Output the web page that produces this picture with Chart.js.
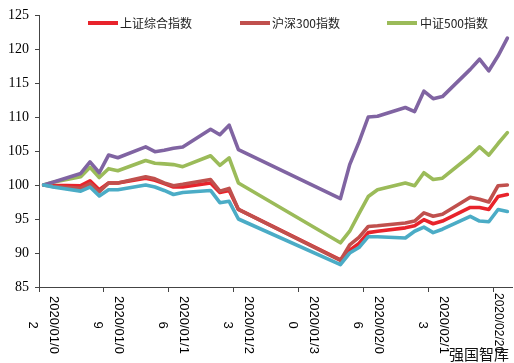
<!DOCTYPE html>
<html><head><meta charset="utf-8">
<script src="https://cdn.jsdelivr.net/npm/chart.js@4.4.0/dist/chart.umd.min.js"></script>
<style>html,body{margin:0;padding:0;background:#fff;}#wrap{position:relative;width:514px;height:363px;}</style>
</head><body><div id="wrap"><canvas id="c" width="514" height="363"></canvas></div>
<script>
const dates = ['2020/01/02','2020/01/03','2020/01/06','2020/01/07','2020/01/08','2020/01/09','2020/01/10','2020/01/13','2020/01/14','2020/01/15','2020/01/16','2020/01/17','2020/01/20','2020/01/21','2020/01/22','2020/01/23','2020/02/03','2020/02/04','2020/02/05','2020/02/06','2020/02/07','2020/02/10','2020/02/11','2020/02/12','2020/02/13','2020/02/14','2020/02/17','2020/02/18','2020/02/19','2020/02/20','2020/02/21'];
const sseComposite = [100,99.95,99.9,100.6,99.3,100.3,100.3,101.0,100.7,100.2,99.7,99.7,100.3,98.9,99.2,96.4,89.0,90.4,91.4,93.0,93.2,93.7,94.0,94.9,94.3,94.7,96.7,96.7,96.4,98.3,98.6];
const csi300 = [100,99.8,99.5,100.2,99.0,100.3,100.3,101.2,100.9,100.3,99.9,100.1,100.8,99.1,99.5,96.4,88.9,91.2,92.3,93.9,94.0,94.4,94.7,95.9,95.4,95.7,98.2,97.9,97.5,99.9,100.0];
const csi500 = [100,100.4,101.2,102.6,101.1,102.4,102.1,103.6,103.2,103.1,103.0,102.7,104.3,102.9,104.0,100.3,91.5,93.2,95.8,98.3,99.3,100.3,99.9,101.8,100.8,101.0,104.3,105.6,104.4,106.1,107.7];
const seriesPurple = [100,100.4,101.7,103.4,101.8,104.4,104.0,105.6,104.9,105.1,105.4,105.6,108.2,107.4,108.8,105.2,98.0,103.0,106.3,110.0,110.1,111.4,110.8,113.8,112.7,113.0,117.0,118.5,116.8,119.0,121.6];
const seriesCyan = [100,99.7,99.1,99.7,98.4,99.3,99.3,100.0,99.7,99.2,98.6,98.9,99.2,97.4,97.6,95.0,88.3,90.0,90.8,92.4,92.4,92.2,93.2,93.8,93.0,93.5,95.4,94.7,94.6,96.4,96.1];
const seriesNames = ['上证综合指数','沪深300指数','中证500指数','',''];
const xTickLabels = ['2020/01/02','2020/01/09','2020/01/16','2020/01/23','2020/01/30','2020/02/06','2020/02/13','2020/02/20'];
const yMin = 85, yMax = 125, yStep = 5;
const watermarkText = '强国智库';

function dayOffset(s){const p=s.split('/').map(Number);return (Date.UTC(p[0],p[1]-1,p[2])-Date.UTC(2020,0,2))/86400000;}
function pts(arr){return arr.map((v,i)=>({x:dayOffset(dates[i])+0.5,y:v}));}

const colors = ['#E8232B','#C0504D','#9BBB59','#8064A2','#4BACC6'];
const allSeries = [sseComposite,csi300,csi500,seriesPurple,seriesCyan];
const datasets = allSeries.map((s,i)=>({label:seriesNames[i],data:pts(s),borderColor:colors[i],backgroundColor:colors[i],borderWidth:3.6,pointRadius:0,tension:0,borderJoinStyle:'round',borderCapStyle:'round',fill:false}));
// draw order: later drawn on top -> set order
datasets.forEach((d,i)=>{d.order = [4,3,2,1,0][i];});

const overlay = {
  id:'overlay',
  afterDraw(chart){
    const ctx = chart.ctx, xs = chart.scales.x;
    ctx.save();
    // x labels rotated 90deg clockwise
    ctx.fillStyle='#000';
    ctx.font='13px "Liberation Sans", Arial, sans-serif';
    ctx.textBaseline='middle';
    xTickLabels.forEach((lbl,i)=>{
      const px = xs.getPixelForValue(dayOffset(lbl));
      ctx.save();
      ctx.translate(px, 293);
      ctx.rotate(Math.PI/2);
      if(i===xTickLabels.length-1){
        ctx.font='12px "Liberation Sans", Arial, sans-serif';
        ctx.textAlign='left';
        ctx.fillText(lbl,0,-5);
      } else {
        ctx.textAlign='center';
        ctx.fillText(lbl.slice(0,9),32,-15);
        ctx.fillText(lbl.slice(9),32,6);
      }
      ctx.restore();
    });
    // legend
    const leg = [[88,120],[240,272],[387,420]];
    ctx.font='12px "Noto Sans CJK SC", sans-serif';
    ctx.textAlign='left';ctx.textBaseline='middle';
    leg.forEach((p,i)=>{
      ctx.strokeStyle=colors[i];ctx.lineWidth=4;ctx.lineCap='butt';
      ctx.beginPath();ctx.moveTo(p[0],23);ctx.lineTo(p[0]+30,23);ctx.stroke();
      ctx.fillStyle='#222';
      ctx.fillText(seriesNames[i],p[1],23);
    });
    // watermark
    ctx.font='15px "Noto Sans CJK SC", sans-serif';
    ctx.fillStyle='#111';
    ctx.textBaseline='alphabetic';
    ctx.fillText(watermarkText,449,360);
    ctx.restore();
  }
};

new Chart(document.getElementById('c'),{
  type:'line',
  data:{datasets},
  options:{
    responsive:false,animation:false,devicePixelRatio:1,
    layout:{padding:{top:15,right:2,left:0,bottom:0}},
    plugins:{legend:{display:false},tooltip:{enabled:false}},
    scales:{
      x:{type:'linear',min:0,max:dayOffset(dates[dates.length-1])+1,
        afterBuildTicks(s){s.ticks=xTickLabels.map(l=>({value:dayOffset(l)}));},
        afterFit(s){s.height=76;},
        ticks:{display:false},
        grid:{display:true,drawOnChartArea:false,drawTicks:true,tickLength:5,color:'#444',lineWidth:1},
        border:{display:true,color:'#444',width:1}
      },
      y:{min:yMin,max:yMax,
        afterFit(s){s.width=39;},
        ticks:{stepSize:yStep,color:'#000',font:{family:'"Liberation Serif", "Times New Roman", serif',size:14},padding:6},
        grid:{display:true,drawOnChartArea:false,drawTicks:true,tickLength:4,color:'#444'},
        border:{display:true,color:'#444',width:1}
      }
    }
  },
  plugins:[overlay]
});
</script></body></html>
